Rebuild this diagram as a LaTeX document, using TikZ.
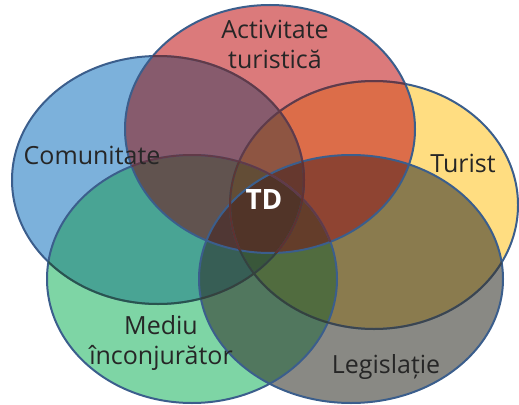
\documentclass[tikz,border=0pt]{standalone}
\usepackage{fontspec}
\setmainfont{Open Sans}
% colours as they show where a set stands alone
\definecolor{vblue}{RGB}{125,178,220}
\definecolor{vred}{RGB}{220,122,124}
\definecolor{vyellow}{RGB}{255,222,130}
\definecolor{vgreen}{RGB}{127,214,166}
\definecolor{vgray}{RGB}{138,138,132}
% the same colours before 75% opacity over white
\definecolor{vblueb}{RGB}{82,152,208}
\definecolor{vredb}{RGB}{208,78,80}
\definecolor{vyellowb}{RGB}{255,211,88}
\definecolor{vgreenb}{RGB}{84,200,136}
\definecolor{vgrayb}{RGB}{99,99,91}
\definecolor{vline}{RGB}{59,94,140}
% the five sets
\newcommand\eblue{(158,180) ellipse [x radius=146,y radius=124]}
\newcommand\eyellow{(374,205) ellipse [x radius=144,y radius=124]}
\newcommand\egreen{(192,279) ellipse [x radius=145,y radius=124]}
\newcommand\egray{(351,279) ellipse [x radius=152,y radius=124]}
\newcommand\ered{(270,129) ellipse [x radius=145,y radius=124]}
\newcommand\vsets[2]{%
	\fill[#1,vblue#2] \eblue;
	\fill[#1,vyellow#2] \eyellow;
	\fill[#1,vgreen#2] \egreen;
	\fill[#1,vgray#2] \egray;
	\fill[#1,vred#2] \ered;}
\begin{document}
\begin{tikzpicture}[x=1pt,y=-1pt,
	rim/.style={draw=vline,line width=2pt},
	hid/.style={draw=#1,line width=2pt,draw opacity=.7},
	lbl/.style={font=\fontsize{25}{30}\selectfont,align=center,text=black!85}]
	\useasboundingbox (0,0) rectangle (519,404);
	% plain layer
	\begin{scope}[transparency group]
		\vsets{fill opacity=.75}{b}
	\end{scope}
	% darkening layer
	\begin{scope}[transparency group,opacity=.65]
		\begin{scope}[blend mode=multiply]
			\vsets{}{}
		\end{scope}
	\end{scope}
	% outlines
	\draw[rim] \eblue;
	\draw[rim] \eyellow;
	\draw[rim] \egreen;
	\draw[rim] \egray;
	\draw[rim] \ered;
	% outlines lying under another set
	\begin{scope}
		\clip \egreen;
		\draw[hid=vgreenb!40!black] \eblue \eyellow;
	\end{scope}
	\begin{scope}
		\clip \egray;
		\draw[hid=vgrayb!60!black] \eblue \eyellow;
	\end{scope}
	\begin{scope}
		\clip \ered;
		\draw[hid=vredb!55!black] \eblue \eyellow \egreen;
	\end{scope}
	% labels
	\node[lbl] (act) at (275,44) {Activitate\\turistică};
	\node[lbl] (com) at (92,155) {Comunitate};
	\node[lbl] (tur) at (463,163) {Turist};
	\node[lbl] (med) at (161,343) {Mediu\\înconjurător};
	\node[lbl] (leg) at (386,367) {Legislație};
	\node[font=\fontsize{28}{30}\selectfont\bfseries,text=white] (td) at (264,200) {TD};
\end{tikzpicture}
\end{document}
